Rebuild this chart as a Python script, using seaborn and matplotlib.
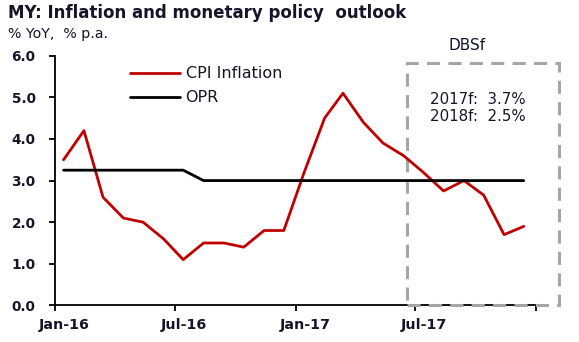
import numpy as np
import pandas as pd
import matplotlib
matplotlib.use("Agg")
import matplotlib.pyplot as plt
import matplotlib.dates as mdates
from matplotlib.lines import Line2D
from matplotlib.patches import Rectangle
import seaborn as sns

# ---- data ----
months = pd.date_range("2016-01-01", periods=24, freq="MS") + pd.Timedelta(days=13)
cpi = [3.5, 4.2, 2.6, 2.1, 2.0, 1.6, 1.1, 1.5, 1.5, 1.4, 1.8, 1.8,
       3.2, 4.5, 5.1, 4.4, 3.9, 3.6, 3.2, 2.75, 3.0, 2.65, 1.7, 1.9]
opr = [3.25, 3.25, 3.25, 3.25, 3.25, 3.25, 3.25, 3.0, 3.0, 3.0, 3.0, 3.0,
       3.0, 3.0, 3.0, 3.0, 3.0, 3.0, 3.0, 3.0, 3.0, 3.0, 3.0, 3.0]
tick_dates = ["2016-01-01", "2016-07-01", "2017-01-01", "2017-07-01", "2018-01-01"]
tick_labels = ["Jan-16", "Jul-16", "Jan-17", "Jul-17", ""]
ytick_vals = [0, 1, 2, 3, 4, 5, 6]
title = "MY: Inflation and monetary policy  outlook"
subtitle = "% YoY,  % p.a."
forecast_lines = ["2017f:  3.7%", "2018f:  2.5%"]
box_label = "DBSf"

df = pd.DataFrame({"date": list(months) * 2,
                   "value": cpi + opr,
                   "series": ["CPI Inflation"] * 24 + ["OPR"] * 24})

sns.set_style("white")
plt.rcParams["font.family"] = ["DejaVu Sans"]
txt_color = "#15152a"

fig = plt.figure(figsize=(5.79, 3.42), dpi=100)
ax = fig.add_axes([0.095, 0.107, 0.846, 0.73])

sns.lineplot(data=df, x="date", y="value", hue="series",
             palette={"CPI Inflation": "#c00000", "OPR": "#000000"},
             linewidth=2.0, ax=ax, legend=False, zorder=4)

ax.set_xlim(pd.Timestamp("2016-01-01"), pd.Timestamp("2018-01-01"))
ax.set_ylim(0, 6)

ax.set_xticks(pd.to_datetime(tick_dates))
ax.set_xticklabels([])
ax.set_xticks(pd.to_datetime(tick_dates) + pd.Timedelta(days=14), minor=True)
ax.set_xticklabels(tick_labels, minor=True)
ax.tick_params(axis="x", which="major", direction="out", length=4, width=1.3, color="black", bottom=True)
ax.tick_params(axis="x", which="minor", length=0, pad=9, labelsize=10.3, labelcolor=txt_color)
for lbl in ax.get_xticklabels(minor=True):
    lbl.set_fontweight("bold")

ax.set_yticks(ytick_vals)
ax.set_yticklabels([f"{v:.1f}" for v in ytick_vals], fontsize=9.8, fontweight="bold", color=txt_color)
ax.tick_params(axis="y", direction="out", length=4, width=1.3, color="black", left=True, pad=10)

ax.set_xlabel("")
ax.set_ylabel("")
for s in ["top", "right"]:
    ax.spines[s].set_visible(False)
for s in ["left", "bottom"]:
    ax.spines[s].set_color("black")
    ax.spines[s].set_linewidth(1.3)

# legend (frameless)
handles = [Line2D([], [], color="#c00000", lw=2.0), Line2D([], [], color="black", lw=2.0)]
leg = ax.legend(handles, ["CPI Inflation", "OPR"], loc="upper left", bbox_to_anchor=(0.153, 0.957),
                frameon=False, fontsize=11.5, handlelength=3.15, handletextpad=0.33,
                labelspacing=0.55, borderpad=0, borderaxespad=0)
for t in leg.get_texts():
    t.set_color(txt_color)

# forecast box
bx0 = mdates.date2num(pd.Timestamp("2017-06-19"))
bx1 = mdates.date2num(pd.Timestamp("2018-02-06"))
rect = Rectangle((bx0, 0), bx1 - bx0, 5.82, fill=False, edgecolor="#a6a6a6",
                 linewidth=2.2, linestyle=(0, (4.3, 2.7)), clip_on=False, zorder=3)
ax.add_patch(rect)
tx = mdates.date2num(pd.Timestamp("2017-07-25"))
ax.text(tx, 4.83, forecast_lines[0], fontsize=10.8, color=txt_color, ha="left", va="baseline")
ax.text(tx, 4.43, forecast_lines[1], fontsize=10.8, color=txt_color, ha="left", va="baseline")
fig.text(449 / 579, 1 - 45 / 342, box_label, fontsize=11, color=txt_color, ha="left", va="center")

fig.text(0.013, 1 - 12.5 / 342, title, fontsize=12, fontweight="bold", color=txt_color, ha="left", va="center")
fig.text(0.013, 1 - 34 / 342, subtitle, fontsize=10.2, color=txt_color, ha="left", va="center")

fig.savefig("out.png", dpi=100)
